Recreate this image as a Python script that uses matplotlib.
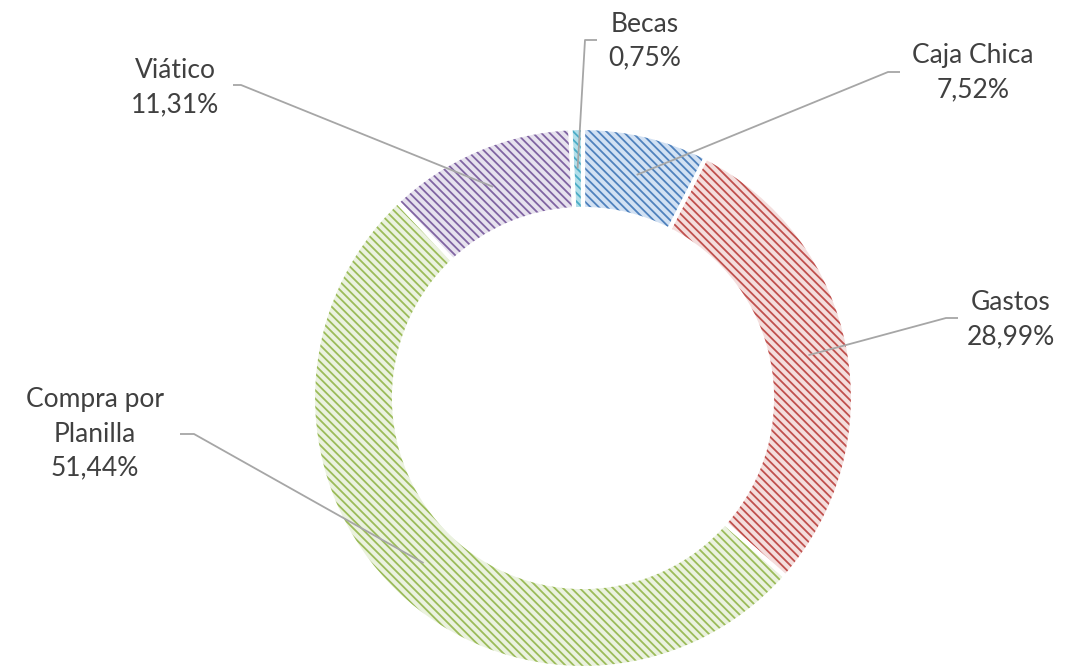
import numpy as np
import matplotlib.pyplot as plt

plt.rcParams['font.family'] = ['Lato', 'DejaVu Sans']
plt.rcParams['hatch.linewidth'] = 1.3

labels = ['Caja Chica', 'Gastos', 'Compra por\nPlanilla', 'Viático', 'Becas']
shares = [7.52, 28.99, 51.44, 11.31, 0.75]
pct_text = ['7,52%', '28,99%', '51,44%', '11,31%', '0,75%']

face_colors = ['#d2e1f3', '#f4dedd', '#ebf2df', '#e7e2ee', '#b2dfea']
hatch_colors = ['#4f81bd', '#c0504d', '#9bbb59', '#8064a2', '#4bacc6']

# label placement in pixel coords (x, y from top), and leader elbow
label_pos = [(973, 73), (1011, 320), (95, 434), (175, 88), (645, 41)]
elbow = [(888, 72, 900), (946, 318, 958), (194, 434, 180), (241, 85, 233), (585, 40, 597)]

W, H = 1065, 670
fig = plt.figure(figsize=(W / 100, H / 100), dpi=100)
ax = fig.add_axes([0, 0, 1, 1])

cx, cy = 583, H - 398
r_out, ring = 270, 81

wedges, _ = ax.pie(shares, startangle=90, counterclock=False, center=(cx, cy),
                   radius=r_out, colors=face_colors, frame=True,
                   wedgeprops=dict(width=ring, linewidth=0))
for w, hc in zip(wedges, hatch_colors):
    w.set_hatch('\\\\\\\\')
    w.set_edgecolor(hc)

ax.pie(shares, startangle=90, counterclock=False, center=(cx, cy), radius=r_out,
       colors=['none'] * 5, frame=True,
       wedgeprops=dict(width=ring, linewidth=3, edgecolor='white', fill=False))
ax.set_xlim(0, W)
ax.set_ylim(0, H)
ax.set_aspect('equal')
ax.axis('off')

r_mid = r_out - ring / 2
for w, lab, pct, (tx, ty), (ex, ey, hx) in zip(wedges, labels, pct_text, label_pos, elbow):
    ang = np.deg2rad((w.theta1 + w.theta2) / 2)
    sx, sy = cx + r_mid * np.cos(ang), cy + r_mid * np.sin(ang)
    ax.plot([sx, ex, hx], [sy, H - ey, H - ey], color='#a6a6a6', lw=1.3,
            solid_capstyle='butt')
    ax.text(tx, H - ty, lab + '\n' + pct, ha='center', va='center',
            fontsize=19, color='#404040', linespacing=1.45)

plt.savefig('out.png', dpi=100)
